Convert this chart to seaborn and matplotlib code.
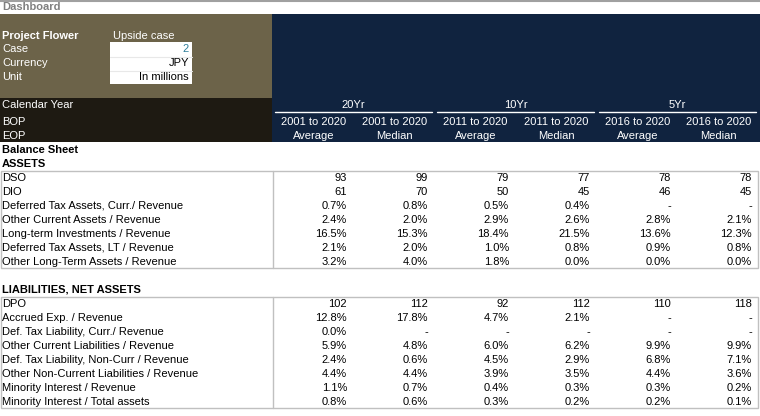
import matplotlib
matplotlib.use("Agg")
import matplotlib.pyplot as plt
from matplotlib.patches import Rectangle
import seaborn as sns

sns.set_theme(style="white")
plt.rcParams["font.family"] = ["Liberation Sans", "DejaVu Sans"]

# header info
project = "Project Flower"
scenario = "Upside case"
info_labels = ["Case", "Currency", "Unit"]
info_values = ["2", "JPY", "In millions"]
left_head = ["Calendar Year", "BOP", "EOP"]
groups = ["20Yr", "10Yr", "5Yr"]
col_periods = ["2001 to 2020", "2001 to 2020", "2011 to 2020", "2011 to 2020",
               "2016 to 2020", "2016 to 2020"]
col_stats = ["Average", "Median", "Average", "Median", "Average", "Median"]

# assets section (None -> "-")
asset_labels = ["DSO", "DIO", "Deferred Tax Assets, Curr./ Revenue",
                "Other Current Assets / Revenue", "Long-term Investments / Revenue",
                "Deferred Tax Assets, LT / Revenue", "Other Long-Term Assets / Revenue"]
asset_fmt = ["d", "d", "%", "%", "%", "%", "%"]
asset_values = [
    [93, 99, 79, 77, 78, 78],
    [61, 70, 50, 45, 46, 45],
    [0.7, 0.8, 0.5, 0.4, None, None],
    [2.4, 2.0, 2.9, 2.6, 2.8, 2.1],
    [16.5, 15.3, 18.4, 21.5, 13.6, 12.3],
    [2.1, 2.0, 1.0, 0.8, 0.9, 0.8],
    [3.2, 4.0, 1.8, 0.0, 0.0, 0.0],
]

# liabilities section
liab_labels = ["DPO", "Accrued Exp. / Revenue", "Def. Tax Liability, Curr./ Revenue",
               "Other Current Liabilities / Revenue", "Def. Tax Liability, Non-Curr / Revenue",
               "Other Non-Current Liabilities / Revenue", "Minority Interest / Revenue",
               "Minority Interest / Total assets"]
liab_fmt = ["d", "%", "%", "%", "%", "%", "%", "%"]
liab_values = [
    [102, 112, 92, 112, 110, 118],
    [12.8, 17.8, 4.7, 2.1, None, None],
    [0.0, None, None, None, None, None],
    [5.9, 4.8, 6.0, 6.2, 9.9, 9.9],
    [2.4, 0.6, 4.5, 2.9, 6.8, 7.1],
    [4.4, 4.4, 3.9, 3.5, 4.4, 3.6],
    [1.1, 0.7, 0.4, 0.3, 0.3, 0.2],
    [0.8, 0.6, 0.3, 0.2, 0.2, 0.1],
]

OLIVE = "#6c6349"
NAVY = "#10233f"
DARK = "#1e1a12"
GRID = "#c0c0c0"
FS = 8.0

fig = plt.figure(figsize=(7.6, 4.16), dpi=100)
ax = fig.add_axes([0, 0, 1, 1])
ax.set_xlim(0, 760)
ax.set_ylim(416, 0)
ax.axis("off")


def fmt(v, kind):
    if v is None:
        return "-"
    return f"{v:.0f}" if kind == "d" else f"{v:.1f}%"


# top strip
ax.axhline(0.6, color="#a0a0a0", lw=1.5)
ax.text(2, 7.5, "Dashboard", color="#808080", fontsize=FS, fontweight="bold", va="center")

# bands
ax.add_patch(Rectangle((0, 14), 272, 84, color=OLIVE, lw=0))
ax.add_patch(Rectangle((0, 98), 272, 44, color=DARK, lw=0))
ax.add_patch(Rectangle((272, 14), 488, 128, color=NAVY, lw=0))

# project block
ax.text(2, 36, project, color="white", fontsize=FS, fontweight="bold", va="center")
ax.text(113, 36, scenario, color="white", fontsize=FS, va="center")
ax.add_patch(Rectangle((110, 42), 82, 42, color="white", lw=0))
for i, (lab, val) in enumerate(zip(info_labels, info_values)):
    y = 49.5 + 14 * i
    ax.text(2, y, lab, color="white", fontsize=FS, va="center")
    ax.text(189, y, val, color="#2f7f9a" if i == 0 else "black", fontsize=FS,
            va="center", ha="right")
    if i > 0:
        ax.plot([110, 192], [y - 7, y - 7], color="#e8e8e8", lw=0.8)

for i, lab in enumerate(left_head):
    ax.text(2, [105, 122, 136][i], lab, color="white", fontsize=FS, va="center")

# column headers
for g, name in enumerate(groups):
    x0 = 275 + 162 * g
    ax.text(x0 + 78.5, 105, name, color="white", fontsize=FS, ha="center", va="center")
    ax.plot([x0, x0 + 157], [112, 112], color="white", lw=1)
for c in range(6):
    xc = 313.5 + 81 * c
    ax.text(xc, 122, col_periods[c], color="white", fontsize=FS, ha="center", va="center")
    ax.text(xc, 136, col_stats[c], color="white", fontsize=FS, ha="center", va="center")


def section(title, top, labels, kinds, values):
    ax.text(2, top - 7, title, color="black", fontsize=FS, fontweight="bold", va="center")
    bottom = top + 14 * len(labels) - 1
    ax.add_patch(Rectangle((0.5, top), 757, bottom - top, fill=False, ec=GRID, lw=1))
    ax.plot([273, 273], [top, bottom], color=GRID, lw=1)
    for r, (lab, kind, row) in enumerate(zip(labels, kinds, values)):
        y = top + 7 + 14 * r
        ax.text(2, y, lab, color="black", fontsize=FS, va="center")
        for c, v in enumerate(row):
            ax.text(347 + 81 * c, y, fmt(v, kind), color="black", fontsize=FS,
                    ha="right", va="center")


ax.text(2, 150, "Balance Sheet", color="black", fontsize=FS, fontweight="bold", va="center")
section("ASSETS", 171, asset_labels, asset_fmt, asset_values)
section("LIABILITIES, NET ASSETS", 297, liab_labels, liab_fmt, liab_values)

fig.savefig("out.png", dpi=100)
